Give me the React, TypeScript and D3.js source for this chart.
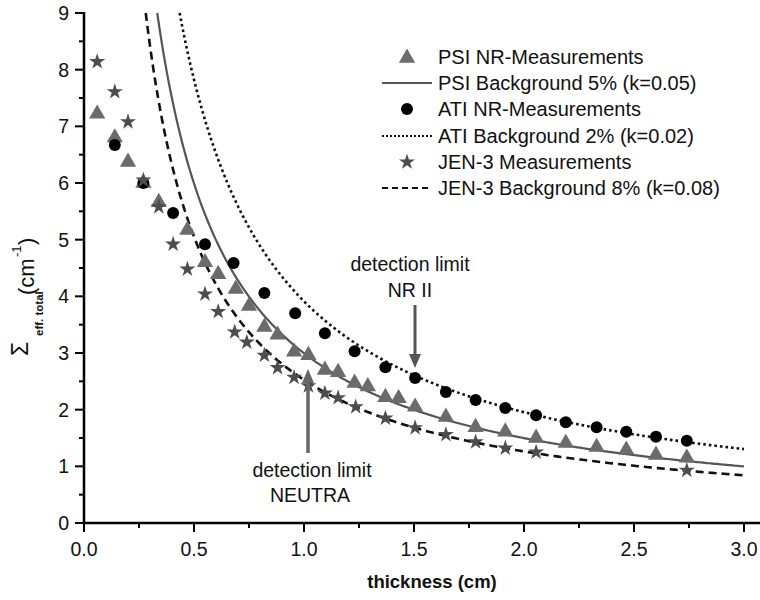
import React from "react";
import * as d3 from "d3";

const psiX = [0.06, 0.14, 0.2, 0.27, 0.34, 0.47, 0.55, 0.61, 0.69, 0.75, 0.82, 0.88, 0.955, 1.02, 1.095, 1.155, 1.23, 1.29, 1.37, 1.43, 1.505, 1.645, 1.78, 1.915, 2.055, 2.19, 2.33, 2.465, 2.6, 2.74];
const psiY = [7.22, 6.8, 6.37, 6.0, 5.66, 5.17, 4.6, 4.39, 4.13, 3.83, 3.46, 3.32, 3.02, 2.96, 2.7, 2.66, 2.47, 2.41, 2.22, 2.2, 2.05, 1.87, 1.69, 1.61, 1.5, 1.41, 1.34, 1.29, 1.2, 1.15];

const atiX = [0.14, 0.27, 0.405, 0.55, 0.68, 0.82, 0.96, 1.095, 1.23, 1.37, 1.505, 1.645, 1.78, 1.915, 2.055, 2.19, 2.33, 2.465, 2.6, 2.74];
const atiY = [6.67, 6.0, 5.47, 4.92, 4.59, 4.06, 3.7, 3.35, 3.03, 2.75, 2.56, 2.31, 2.17, 2.03, 1.9, 1.78, 1.69, 1.61, 1.52, 1.45];

const jenX = [0.06, 0.14, 0.2, 0.27, 0.34, 0.405, 0.47, 0.55, 0.61, 0.685, 0.74, 0.82, 0.88, 0.955, 1.02, 1.095, 1.155, 1.235, 1.37, 1.505, 1.645, 1.78, 1.915, 2.055, 2.74];
const jenY = [8.14, 7.61, 7.08, 6.05, 5.58, 4.92, 4.48, 4.04, 3.73, 3.37, 3.19, 2.96, 2.74, 2.57, 2.42, 2.29, 2.21, 2.05, 1.85, 1.68, 1.56, 1.43, 1.32, 1.25, 0.93];

// background fractions k of the model curves  Σ = -ln(k) / d
const kPSI = 0.05;
const kATI = 0.02;
const kJEN = 0.08;

const xTicks = [0, 0.5, 1.0, 1.5, 2.0, 2.5, 3.0];
const yTicks = [0, 1, 2, 3, 4, 5, 6, 7, 8, 9];

const legendLabels = [
  "PSI NR-Measurements",
  "PSI Background 5% (k=0.05)",
  "ATI NR-Measurements",
  "ATI Background 2% (k=0.02)",
  "JEN-3 Measurements",
  "JEN-3 Background 8% (k=0.08)",
];

const FONT = "'Liberation Sans', Arial, Helvetica, sans-serif";

export default function App() {
  const x = d3.scaleLinear().domain([0, 3]).range([84, 744]);
  const y = d3.scaleLinear().domain([0, 9]).range([523, 13]);

  const curve = (k: number) => {
    const a = -Math.log(k);
    const d0 = a / 9;
    const pts: [number, number][] = [];
    const n = 300;
    for (let i = 0; i <= n; i++) {
      const d = d0 + ((3 - d0) * i) / n;
      pts.push([d, a / d]);
    }
    return d3
      .line<[number, number]>()
      .x((p) => x(p[0]))
      .y((p) => y(p[1]))(pts) as string;
  };

  const tri = d3.symbol().type(d3.symbolTriangle).size(115)() as string;
  const star = d3.symbol().type(d3.symbolStar).size(80)() as string;

  const gray = "#6b6b6b";
  const starCol = "#4d4d4d";
  const minorX = d3.range(0, 3.01, 0.25);
  const minorY = d3.range(0, 9.01, 0.5);

  const legendY = [57, 83, 109, 136, 162, 188];

  return (
    <svg
      width={760}
      height={600}
      style={{ display: "block", background: "#fff", position: "absolute", left: 0, top: 0 }}
      fontFamily={FONT}
    >
      {/* curves */}
      <path d={curve(kPSI)} fill="none" stroke="#555" strokeWidth={2.2} />
      <path d={curve(kATI)} fill="none" stroke="#111" strokeWidth={2.6} strokeDasharray="2.6,3" />
      <path d={curve(kJEN)} fill="none" stroke="#111" strokeWidth={2.6} strokeDasharray="8,5" />

      {/* markers */}
      {psiX.map((d, i) => (
        <path key={"p" + i} d={tri} transform={`translate(${x(d)},${y(psiY[i])})`} fill={gray} />
      ))}
      {atiX.map((d, i) => (
        <circle key={"a" + i} cx={x(d)} cy={y(atiY[i])} r={6} fill="#000" />
      ))}
      {jenX.map((d, i) => (
        <path key={"j" + i} d={star} transform={`translate(${x(d)},${y(jenY[i])})`} fill={starCol} />
      ))}

      {/* axes */}
      <line x1={84} x2={84} y1={12} y2={524} stroke="#000" strokeWidth={2.5} />
      <line x1={83} x2={760} y1={523} y2={523} stroke="#000" strokeWidth={2.5} />
      {minorY.map((v, i) => (
        <line key={"my" + i} x1={84} x2={Number.isInteger(v) ? 75 : 79} y1={y(v)} y2={y(v)} stroke="#000" strokeWidth={2} />
      ))}
      {minorX.map((v, i) => (
        <line key={"mx" + i} x1={x(v)} x2={x(v)} y1={523} y2={Math.abs(v * 2 - Math.round(v * 2)) < 1e-6 ? 532 : 528} stroke="#000" strokeWidth={2} />
      ))}
      {yTicks.map((v) => (
        <text key={"yt" + v} x={69} y={y(v)} dy="0.36em" textAnchor="end" fontSize={19.5} fill="#111">
          {v}
        </text>
      ))}
      {xTicks.map((v) => (
        <text key={"xt" + v} x={x(v)} y={556} textAnchor="middle" fontSize={19.5} fill="#111">
          {v.toFixed(1)}
        </text>
      ))}

      {/* axis titles */}
      <text x={432} y={588} textAnchor="middle" fontSize={18.5} fontWeight="bold" fill="#111">
        thickness (cm)
      </text>
      <text transform="translate(28,356) rotate(-90)" fontSize={23} fill="#111">Σ</text>
      <text transform="translate(43,336) rotate(-90)" fontSize={11.5} fontWeight="bold" fill="#111">eff. total</text>
      <text transform="translate(34,295) rotate(-90)" fontSize={22} fill="#111">(cm</text>
      <text transform="translate(21,257) rotate(-90)" fontSize={13} fill="#111">-1</text>
      <text transform="translate(34,245) rotate(-90)" fontSize={22} fill="#111">)</text>

      {/* legend */}
      <path d={tri} transform={`translate(407,${legendY[0] + 1})`} fill={gray} />
      <line x1={382} x2={432} y1={legendY[1]} y2={legendY[1]} stroke="#555" strokeWidth={2.2} />
      <circle cx={407} cy={legendY[2]} r={6} fill="#000" />
      <line x1={382} x2={432} y1={legendY[3]} y2={legendY[3]} stroke="#111" strokeWidth={2} strokeDasharray="2,2" />
      <path d={star} transform={`translate(407,${legendY[4]})`} fill={starCol} />
      <line x1={382} x2={432} y1={legendY[5]} y2={legendY[5]} stroke="#111" strokeWidth={2.2} strokeDasharray="6,4" />
      {legendLabels.map((t, i) => (
        <text key={"lg" + i} x={438} y={legendY[i]} dy="0.36em" fontSize={20} fill="#111">
          {t}
        </text>
      ))}

      {/* annotations */}
      <text x={410} y={271} textAnchor="middle" fontSize={19.5} fill="#111">detection limit</text>
      <text x={410} y={297} textAnchor="middle" fontSize={19.5} fill="#111">NR II</text>
      <line x1={415} x2={415} y1={305} y2={356} stroke="#555" strokeWidth={3} />
      <path d="M409,354 L421,354 L415,368 Z" fill="#555" />

      <line x1={308} x2={308} y1={380} y2={453} stroke="#666" strokeWidth={3.5} />
      <path d="M302,383 L314,383 L308,369 Z" fill="#666" />
      <text x={312} y={477} textAnchor="middle" fontSize={19.5} fill="#111">detection limit</text>
      <text x={310} y={502} textAnchor="middle" fontSize={19.5} fill="#111">NEUTRA</text>
    </svg>
  );
}
